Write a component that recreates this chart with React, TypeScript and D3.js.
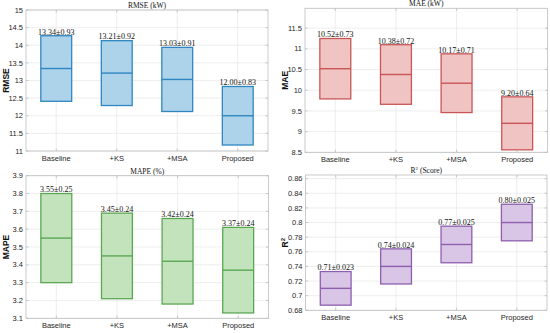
import React from 'react'
import * as d3 from 'd3'

const categories = ['Baseline', '+KS', '+MSA', 'Proposed']

const rmseMean = [13.34, 13.21, 13.03, 12.0]
const rmseStd = [0.93, 0.92, 0.91, 0.83]
const maeMean = [10.52, 10.38, 10.17, 9.2]
const maeStd = [0.73, 0.72, 0.71, 0.64]
const mapeMean = [3.55, 3.45, 3.42, 3.37]
const mapeStd = [0.25, 0.24, 0.24, 0.24]
const r2Mean = [0.71, 0.74, 0.77, 0.8]
const r2Std = [0.023, 0.024, 0.025, 0.025]

const rmseTicks = [11, 11.5, 12, 12.5, 13, 13.5, 14, 14.5, 15]
const maeTicks = [8.5, 9, 9.5, 10, 10.5, 11, 11.5]
const mapeTicks = [3.1, 3.2, 3.3, 3.4, 3.5, 3.6, 3.7, 3.8, 3.9]
const r2Ticks = [0.68, 0.7, 0.72, 0.74, 0.76, 0.78, 0.8, 0.82, 0.84, 0.86]

interface PanelProps {
  title: React.ReactNode
  ylabel: React.ReactNode
  means: number[]
  stds: number[]
  ticks: number[]
  domain: [number, number]
  labelFmt: (m: number, s: number) => string
  tickFmt: (v: number) => string
  fill: string
  stroke: string
  box: { left: number; right: number; top: number; bottom: number }
}

const Panel: React.FC<PanelProps> = ({ title, ylabel, means, stds, ticks, domain, labelFmt, tickFmt, fill, stroke, box }) => {
  const x = d3.scaleLinear().domain([0.5, 4.5]).range([box.left, box.right])
  const y = d3.scaleLinear().domain(domain).range([box.bottom, box.top])
  const halfW = 0.255
  const grid = '#e3e3e3'
  const axisColor = '#bdbdbd'
  const tickColor = '#262626'
  return (
    <g>
      {/* grid */}
      {ticks.map(t => (
        <line key={'gy' + t} x1={box.left} x2={box.right} y1={y(t)} y2={y(t)} stroke={grid} strokeWidth={0.6} />
      ))}
      {categories.map((c, i) => (
        <line key={'gx' + c} x1={x(i + 1)} x2={x(i + 1)} y1={box.top} y2={box.bottom} stroke={grid} strokeWidth={0.6} />
      ))}
      {/* boxes */}
      {means.map((m, i) => {
        const x0 = x(i + 1 - halfW)
        const x1 = x(i + 1 + halfW)
        const yt = y(m + stds[i])
        const yb = y(m - stds[i])
        return (
          <g key={'b' + i}>
            <rect x={x0} y={yt} width={x1 - x0} height={yb - yt} fill={fill} stroke={stroke} strokeWidth={1.3} />
            <line x1={x0} x2={x1} y1={y(m)} y2={y(m)} stroke={stroke} strokeWidth={1.4} />
            <text x={(x0 + x1) / 2} y={yt - 1.2} textAnchor="middle" fontFamily="Liberation Serif, Times New Roman, serif" fontSize={8} fill="#111">
              {labelFmt(m, stds[i])}
            </text>
          </g>
        )
      })}
      {/* axes box */}
      <rect x={box.left} y={box.top} width={box.right - box.left} height={box.bottom - box.top} fill="none" stroke={axisColor} strokeWidth={0.8} />
      {ticks.map(t => (
        <g key={'ty' + t}>
          <line x1={box.left} x2={box.left + 2.5} y1={y(t)} y2={y(t)} stroke={axisColor} strokeWidth={0.8} />
          <line x1={box.right} x2={box.right - 2.5} y1={y(t)} y2={y(t)} stroke={axisColor} strokeWidth={0.8} />
          <text x={box.left - 3} y={y(t)} dy="0.35em" textAnchor="end" fontFamily="Liberation Sans, Arial, sans-serif" fontSize={7.5} fill={tickColor}>
            {tickFmt(t)}
          </text>
        </g>
      ))}
      {categories.map((c, i) => (
        <g key={'tx' + c}>
          <line x1={x(i + 1)} x2={x(i + 1)} y1={box.bottom} y2={box.bottom - 2.5} stroke={axisColor} strokeWidth={0.8} />
          <line x1={x(i + 1)} x2={x(i + 1)} y1={box.top} y2={box.top + 2.5} stroke={axisColor} strokeWidth={0.8} />
          <text x={x(i + 1)} y={box.bottom + 10} textAnchor="middle" fontFamily="Liberation Sans, Arial, sans-serif" fontSize={7.5} fill={tickColor}>
            {c}
          </text>
        </g>
      ))}
      <text x={(box.left + box.right) / 2} y={box.top - 2} textAnchor="middle" fontFamily="Liberation Serif, Times New Roman, serif" fontSize={7.5} fill="#111">
        {title}
      </text>
      <text
        transform={`translate(${box.left - 17.5},${(box.top + box.bottom) / 2}) rotate(-90)`}
        textAnchor="middle"
        fontFamily="Liberation Sans, Arial, sans-serif"
        fontWeight="bold"
        fontSize={8.5}
        fill="#111"
      >
        {ylabel}
      </text>
    </g>
  )
}

const f2 = (m: number, s: number) => `${m.toFixed(2)}±${s.toFixed(2)}`
const f3 = (m: number, s: number) => `${m.toFixed(2)}±${s.toFixed(3)}`

export default function App() {
  return (
    <svg width={550} height={333} style={{ position: 'fixed', left: 0, top: 0, background: '#fff' }}>
      <rect width={550} height={333} fill="#fff" />
      <Panel
        title="RMSE (kW)"
        ylabel="RMSE"
        means={rmseMean}
        stds={rmseStd}
        ticks={rmseTicks}
        domain={[11, 15]}
        labelFmt={f2}
        tickFmt={d3.format('~g')}
        fill="#acd3ea"
        stroke="#2f86c0"
        box={{ left: 26, right: 268, top: 10, bottom: 151 }}
      />
      <Panel
        title="MAE (kW)"
        ylabel="MAE"
        means={maeMean}
        stds={maeStd}
        ticks={maeTicks}
        domain={[8.5, 11.98]}
        labelFmt={f2}
        tickFmt={d3.format('~g')}
        fill="#f1c4c4"
        stroke="#c95656"
        box={{ left: 305, right: 547.5, top: 8.3, bottom: 152.3 }}
      />
      <Panel
        title="MAPE (%)"
        ylabel="MAPE"
        means={mapeMean}
        stds={mapeStd}
        ticks={mapeTicks}
        domain={[3.1, 3.9]}
        labelFmt={f2}
        tickFmt={d3.format('.1f')}
        fill="#c3e3bd"
        stroke="#5aa852"
        box={{ left: 26, right: 268.5, top: 175.7, bottom: 318.3 }}
      />
      <Panel
        title={<tspan>R<tspan fontSize={5} dy={-3}>2</tspan><tspan dy={3}> (Score)</tspan></tspan>}
        ylabel={<tspan>R<tspan fontSize={6} dy={-3}>2</tspan></tspan>}
        means={r2Mean}
        stds={r2Std}
        ticks={r2Ticks}
        domain={[0.68, 0.865]}
        labelFmt={f3}
        tickFmt={d3.format('~g')}
        fill="#d9c5e6"
        stroke="#8d5fad"
        box={{ left: 305.5, right: 547, top: 175, bottom: 310.3 }}
      />
    </svg>
  )
}
